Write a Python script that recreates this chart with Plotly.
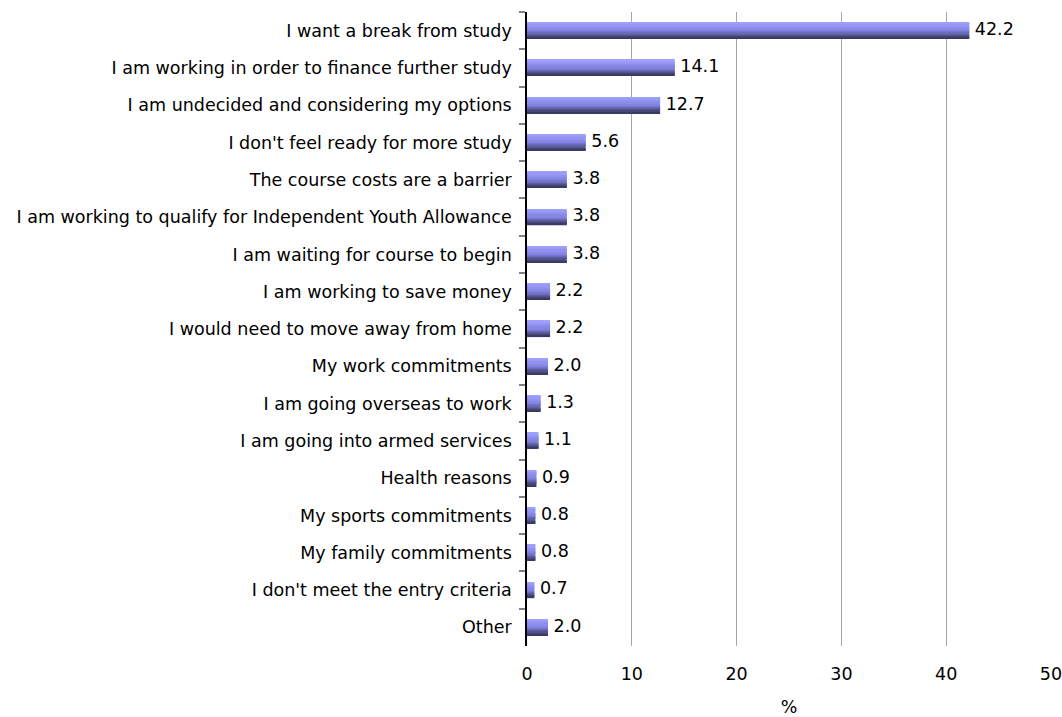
import plotly.graph_objects as go

reasons = [
    "I want a break from study",
    "I am working in order to finance further study",
    "I am undecided and considering my options",
    "I don't feel ready for more study",
    "The course costs are a barrier",
    "I am working to qualify for Independent Youth Allowance",
    "I am waiting for course to begin",
    "I am working to save money",
    "I would need to move away from home",
    "My work commitments",
    "I am going overseas to work",
    "I am going into armed services",
    "Health reasons",
    "My sports commitments",
    "My family commitments",
    "I don't meet the entry criteria",
    "Other",
]
percent = [42.2, 14.1, 12.7, 5.6, 3.8, 3.8, 3.8, 2.2, 2.2, 2.0, 1.3, 1.1, 0.9, 0.8, 0.8, 0.7, 2.0]
x_ticks = [0, 10, 20, 30, 40, 50]

FONT = "DejaVu Sans, Arial, sans-serif"
FSIZE = 17.5

# Bars are painted as thin horizontal stripes to give a light-to-dark shading
n_stripes = 14
bar_w = 0.43
top_rgb = (160, 160, 255)
mid_rgb = (128, 128, 222)
bot_rgb = (58, 58, 100)


def shade(t):
    if t < 0.55:
        u = t / 0.55
        a, b = top_rgb, mid_rgb
    else:
        u = (t - 0.55) / 0.45
        a, b = mid_rgb, bot_rgb
    c = [round(a[k] + (b[k] - a[k]) * u) for k in range(3)]
    return f"rgb({c[0]},{c[1]},{c[2]})"


fig = go.Figure()
step = bar_w / n_stripes
for i in range(n_stripes):
    fig.add_trace(go.Bar(
        x=percent,
        y=reasons,
        orientation="h",
        offset=-bar_w / 2 + i * step,
        width=step * 1.08,
        marker=dict(color=shade(i / (n_stripes - 1)), line=dict(width=0)),
        showlegend=False,
        hoverinfo="skip",
    ))

fig.add_trace(go.Scatter(
    x=percent,
    y=reasons,
    mode="text",
    text=[f" {v:.1f}" for v in percent],
    textposition="middle right",
    textfont=dict(family=FONT, size=FSIZE, color="#000000"),
    showlegend=False,
    hoverinfo="skip",
    cliponaxis=False,
))

fig.update_layout(
    width=1062,
    height=717,
    barmode="overlay",
    plot_bgcolor="white",
    paper_bgcolor="white",
    margin=dict(l=527, r=11, t=12, b=71, autoexpand=False),
    font=dict(family=FONT, size=FSIZE, color="#000000"),
    xaxis=dict(
        range=[0, 50],
        tickvals=x_ticks,
        showgrid=True,
        gridcolor="#a6a6a6",
        gridwidth=1,
        zeroline=False,
        showline=False,
        ticks="outside",
        ticklen=12,
        tickcolor="rgba(0,0,0,0)",
        tickfont=dict(family=FONT, size=FSIZE),
        ticklabeloverflow="allow",
        title=dict(text="%", font=dict(family=FONT, size=FSIZE), standoff=19),
        automargin=False,
    ),
    yaxis=dict(
        categoryorder="array",
        categoryarray=reasons,
        range=[16.5, -0.5],
        showgrid=False,
        zeroline=False,
        showline=True,
        linecolor="#000000",
        linewidth=1.5,
        ticks="outside",
        tickson="boundaries",
        ticklen=6,
        tickcolor="#808080",
        tickwidth=1.5,
        ticklabelstandoff=10,
        tickfont=dict(family=FONT, size=FSIZE),
        automargin=False,
    ),
)

fig.write_html("out.html")
